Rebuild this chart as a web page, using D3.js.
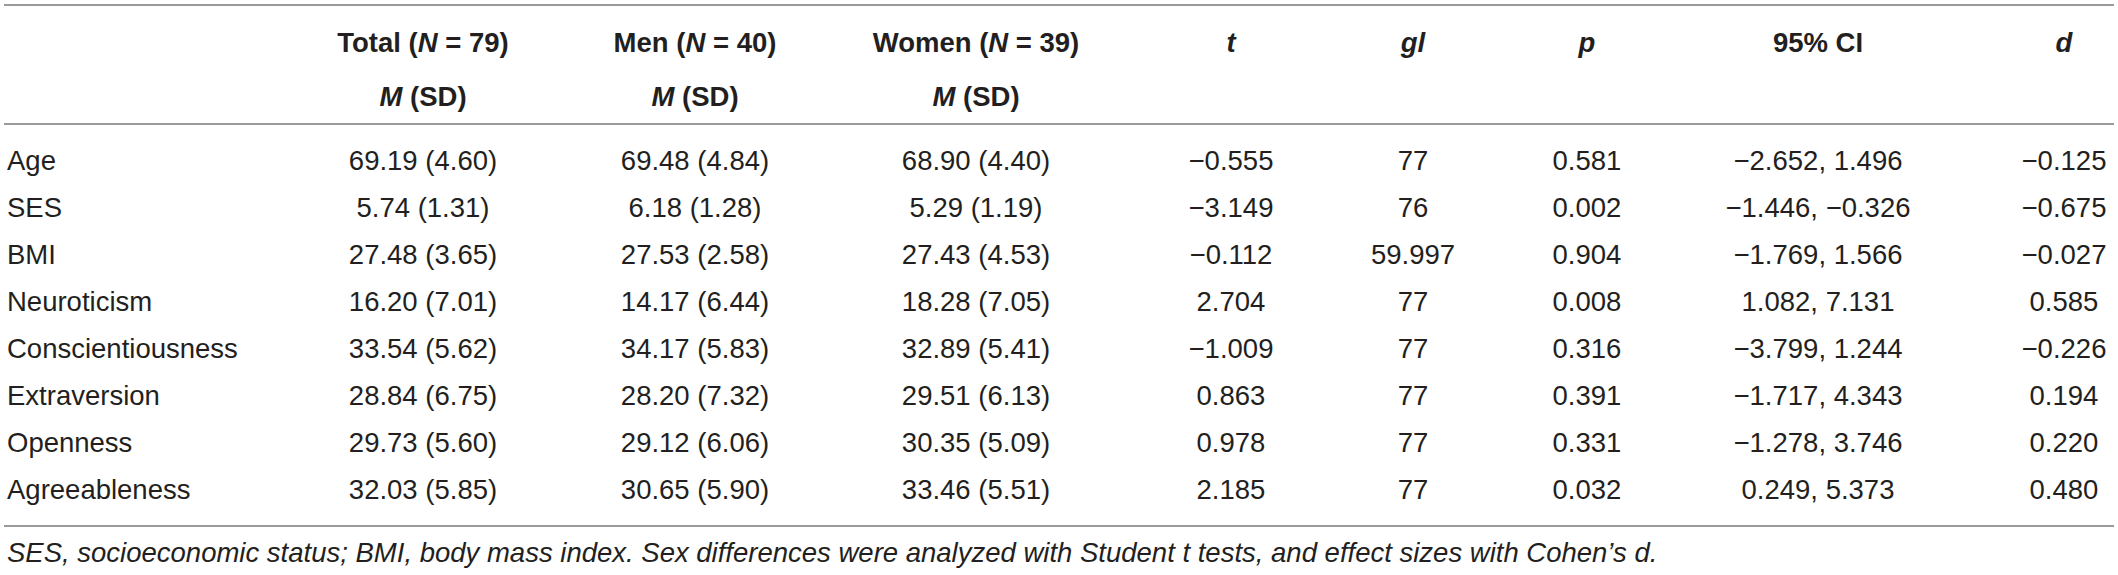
<!DOCTYPE html>
<html>
<head>
<meta charset="utf-8">
<script src="https://cdn.jsdelivr.net/npm/d3@7"></script>
<style>
  html, body { margin: 0; padding: 0; background: #fff; }
  svg { display: block; }
  text { font-family: "Liberation Sans", Arial, Helvetica, sans-serif; fill: #231f20; }
</style>
</head>
<body>
<svg id="chart" width="2118" height="575"></svg>
<script>
// ---- data ----
const variables = ["Age", "SES", "BMI", "Neuroticism", "Conscientiousness", "Extraversion", "Openness", "Agreeableness"];
const totalM  = [69.19, 5.74, 27.48, 16.20, 33.54, 28.84, 29.73, 32.03];
const totalSD = [4.60, 1.31, 3.65, 7.01, 5.62, 6.75, 5.60, 5.85];
const menM    = [69.48, 6.18, 27.53, 14.17, 34.17, 28.20, 29.12, 30.65];
const menSD   = [4.84, 1.28, 2.58, 6.44, 5.83, 7.32, 6.06, 5.90];
const womenM  = [68.90, 5.29, 27.43, 18.28, 32.89, 29.51, 30.35, 33.46];
const womenSD = [4.40, 1.19, 4.53, 7.05, 5.41, 6.13, 5.09, 5.51];
const tVals   = [-0.555, -3.149, -0.112, 2.704, -1.009, 0.863, 0.978, 2.185];
const dfVals  = [77, 76, 59.997, 77, 77, 77, 77, 77];
const pVals   = [0.581, 0.002, 0.904, 0.008, 0.316, 0.391, 0.331, 0.032];
const ciLow   = [-2.652, -1.446, -1.769, 1.082, -3.799, -1.717, -1.278, 0.249];
const ciHigh  = [1.496, -0.326, 1.566, 7.131, 1.244, 4.343, 3.746, 5.373];
const dVals   = [-0.125, -0.675, -0.027, 0.585, -0.226, 0.194, 0.220, 0.480];
const columns = ["label", "total", "men", "women", "t", "gl", "p", "ci", "d"];
const footnote = [
  {t: "SES, socioeconomic status; BMI, body mass index. Sex differences were analyzed with Student ", i: true},
  {t: "t", i: true},
  {t: " tests, and effect sizes with Cohen\u2019s ", i: true},
  {t: "d", i: true},
  {t: ".", i: true}
];

// ---- layout ----
const W = 2118;
const svg = d3.select("#chart");
const f2 = d3.format(".2f"), f3 = d3.format(".3f");
const fs = 27.5;

const x = d3.scaleOrdinal().domain(columns)
  .range([7, 423, 695, 976, 1231, 1413, 1587, 1818, 2064]);
const y = d3.scalePoint().domain(variables).range([170, 499]);

const rows = variables.map((v, i) => ({
  label: v,
  total: `${f2(totalM[i])} (${f2(totalSD[i])})`,
  men: `${f2(menM[i])} (${f2(menSD[i])})`,
  women: `${f2(womenM[i])} (${f2(womenSD[i])})`,
  t: f3(tVals[i]),
  gl: Number.isInteger(dfVals[i]) ? String(dfVals[i]) : f3(dfVals[i]),
  p: f3(pVals[i]),
  ci: `${f3(ciLow[i])}, ${f3(ciHigh[i])}`,
  d: f3(dVals[i])
}));

// rules
const lineColor = "#9a9a9a";
[5, 124, 526].forEach(yy => {
  svg.append("line").attr("x1", 4).attr("x2", W - 4).attr("y1", yy).attr("y2", yy)
    .attr("stroke", lineColor).attr("stroke-width", 2);
});

// header
const headers = [
  {col: "total", l1: [["Total (", false], ["N", true], [" = 79)", false]], l2: [["M", true], [" (SD)", false]]},
  {col: "men", l1: [["Men (", false], ["N", true], [" = 40)", false]], l2: [["M", true], [" (SD)", false]]},
  {col: "women", l1: [["Women (", false], ["N", true], [" = 39)", false]], l2: [["M", true], [" (SD)", false]]},
  {col: "t", l1: [["t", true]]},
  {col: "gl", l1: [["gl", true]]},
  {col: "p", l1: [["p", true]]},
  {col: "ci", l1: [["95% CI", false]]},
  {col: "d", l1: [["d", true]]}
];
function addRich(parts, xx, yy) {
  const t = svg.append("text").attr("x", xx).attr("y", yy)
    .attr("text-anchor", "middle").attr("font-weight", "bold").attr("font-size", fs);
  parts.forEach(([s, it]) => t.append("tspan").text(s).attr("font-style", it ? "italic" : "normal"));
}
headers.forEach(h => {
  addRich(h.l1, x(h.col), 52);
  if (h.l2) addRich(h.l2, x(h.col), 106);
});

// body
rows.forEach(r => {
  columns.forEach(c => {
    svg.append("text")
      .attr("x", x(c)).attr("y", y(r.label))
      .attr("text-anchor", c === "label" ? "start" : "middle")
      .attr("font-size", fs)
      .text(r[c]);
  });
});

// footnote
const fn = svg.append("text").attr("x", 7).attr("y", 562).attr("font-size", fs).attr("font-style", "italic");
footnote.forEach(p => fn.append("tspan").text(p.t));
</script>
</body>
</html>
